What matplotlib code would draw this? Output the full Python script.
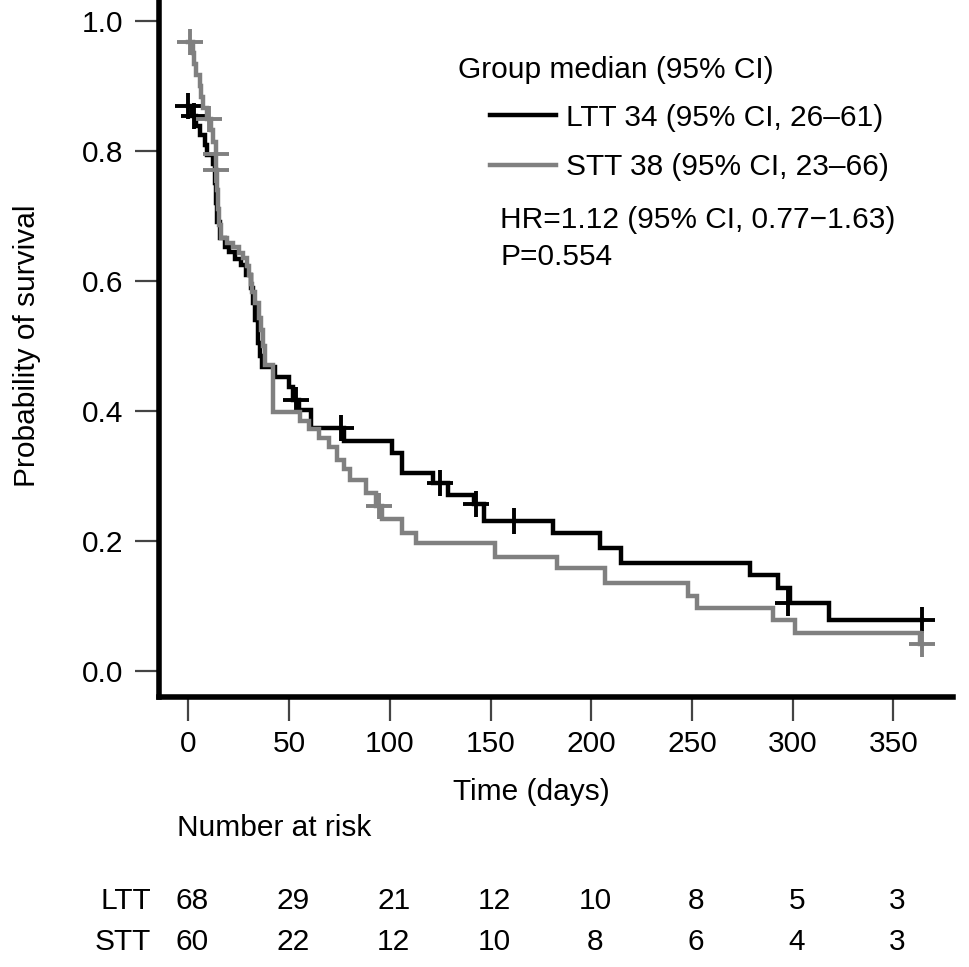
import matplotlib
matplotlib.use('Agg')
import matplotlib.pyplot as plt
import matplotlib.transforms as mtrans
import numpy as np

# Kaplan-Meier curves (time in days, survival)
ltt_time = [0, 2, 4, 6, 8, 9, 12, 13, 13.5, 14, 15.5, 18, 20, 23, 26, 28.5,
            31, 32, 33, 34.5, 35.5, 36.5, 43, 50, 52, 55, 61, 77, 101, 106,
            121.5, 129, 142, 147, 181, 204.5, 215, 279, 292.5, 298.5, 318, 364]
ltt_surv = [0.868, 0.853, 0.838, 0.824, 0.809, 0.794, 0.779, 0.750, 0.720,
            0.690, 0.665, 0.652, 0.644, 0.634, 0.624, 0.609, 0.589, 0.565,
            0.540, 0.504, 0.485, 0.468, 0.452, 0.437, 0.417, 0.401, 0.374,
            0.354, 0.335, 0.305, 0.289, 0.271, 0.256, 0.231, 0.212, 0.189,
            0.166, 0.147, 0.128, 0.105, 0.079, 0.079]
ltt_cens_t = [0, 3, 53.5, 76, 125, 143, 161.5, 297.5, 364]
ltt_cens_s = [0.868, 0.853, 0.417, 0.374, 0.289, 0.256, 0.231, 0.105, 0.079]

stt_time = [0, 2.5, 3, 4, 6, 6.5, 7, 9, 11, 12, 13.5, 13.7, 14, 14.5, 15, 16,
            19, 22, 25, 27, 29, 30, 31, 31.8, 33, 35, 36, 37, 38, 42, 55.5,
            60, 65, 70, 74, 77, 80, 88, 93, 96, 106, 113, 152, 183, 207, 248,
            252.5, 290, 301, 363, 364]
stt_surv = [0.967, 0.950, 0.933, 0.916, 0.900, 0.883, 0.866, 0.848, 0.831,
            0.813, 0.795, 0.770, 0.740, 0.710, 0.685, 0.665, 0.658, 0.652,
            0.642, 0.635, 0.622, 0.609, 0.595, 0.583, 0.565, 0.543, 0.524,
            0.500, 0.470, 0.398, 0.385, 0.372, 0.358, 0.345, 0.325, 0.310,
            0.294, 0.273, 0.253, 0.233, 0.212, 0.197, 0.176, 0.158, 0.135,
            0.116, 0.097, 0.079, 0.059, 0.041, 0.041]
stt_cens_t = [1, 10, 13.6, 13.8, 94.5, 364]
stt_cens_s = [0.967, 0.848, 0.795, 0.770, 0.253, 0.041]

# number at risk table
risk_times = [0, 50, 100, 150, 200, 250, 300, 350]
ltt_risk = [68, 29, 21, 12, 10, 8, 5, 3]
stt_risk = [60, 22, 12, 10, 8, 6, 4, 3]

groups = ['LTT', 'STT']
labels = ['LTT 34 (95% CI, 26\u201361)', 'STT 38 (95% CI, 23\u201366)']
colors = ['black', '#808080']

W, H = 969, 967
FS = 21.5
plt.rcParams['font.family'] = ['Liberation Sans', 'DejaVu Sans']
plt.rcParams['font.size'] = FS


def fx(px):
    return px / W


def fy(py):
    return 1 - py / H


fig = plt.figure(figsize=(W / 100, H / 100), dpi=100)
# axes from x=159..953 px, y=-5.5..697 px
ax = fig.add_axes([fx(159), fy(697), fx(953) - fx(159), (697 + 5.5) / H])

curves = [(ltt_time, ltt_surv, ltt_cens_t, ltt_cens_s),
          (stt_time, stt_surv, stt_cens_t, stt_cens_s)]
handles = []
for (t, s, ct, cs), col, lab in zip(curves, colors, labels):
    h, = ax.step(t, s, where='post', color=col, lw=3.2, label=lab,
                 solid_joinstyle='miter')
    ax.plot(ct, cs, linestyle='none', marker='+', ms=19, mew=2.8, color=col)
    handles.append(h)

ax.set_xlim(-14.6, 379.6)
ax.set_ylim(-0.04, 1.04)
ax.set_xticks(risk_times)
ax.set_yticks([0.0, 0.2, 0.4, 0.6, 0.8, 1.0])
ax.set_yticklabels(['0.0', '0.2', '0.4', '0.6', '0.8', '1.0'])
for side in ['top', 'right']:
    ax.spines[side].set_visible(False)
for side in ['left', 'bottom']:
    ax.spines[side].set_linewidth(4)
ax.tick_params(axis='both', direction='out', length=17, width=1.6,
               color='#444444', labelsize=FS)
ax.tick_params(axis='x', pad=7)
ax.tick_params(axis='y', pad=9)

ax.set_ylabel('Probability of survival', fontsize=FS)
ax.yaxis.set_label_coords(-0.148, 0.5)
ax.set_xlabel('Time (days)', fontsize=FS)
ax.xaxis.set_label_coords((531 - 159) / 794, -0.116)

# legend block
fig.text(fx(458), fy(70), 'Group median (95% CI)', ha='left', va='center',
         fontsize=FS)
leg = ax.legend(handles=handles, loc='center left',
                bbox_to_anchor=(fx(490), fy(142.5)),
                bbox_transform=fig.transFigure, frameon=False, fontsize=FS,
                handlelength=2.2, handletextpad=0.35, labelspacing=0.72,
                borderpad=0, borderaxespad=0)
fig.text(fx(500), fy(220), 'HR=1.12 (95% CI, 0.77\u22121.63)', ha='left',
         va='center', fontsize=FS)
fig.text(fx(500), fy(257), 'P=0.554', ha='left', va='center', fontsize=FS)

# number at risk
fig.text(fx(177), fy(828), 'Number at risk', ha='left', va='center',
         fontsize=FS)
blend = mtrans.blended_transform_factory(ax.transData, fig.transFigure)
for grp, risk, ypix in zip(groups, [ltt_risk, stt_risk], [901, 942]):
    fig.text(fx(151), fy(ypix), grp, ha='right', va='center', fontsize=FS)
    for t, n in zip(risk_times, risk):
        ax.text(t + 2, fy(ypix), str(n), transform=blend, ha='center',
                va='center', fontsize=FS, clip_on=False)

fig.savefig('out.png', dpi=100)
